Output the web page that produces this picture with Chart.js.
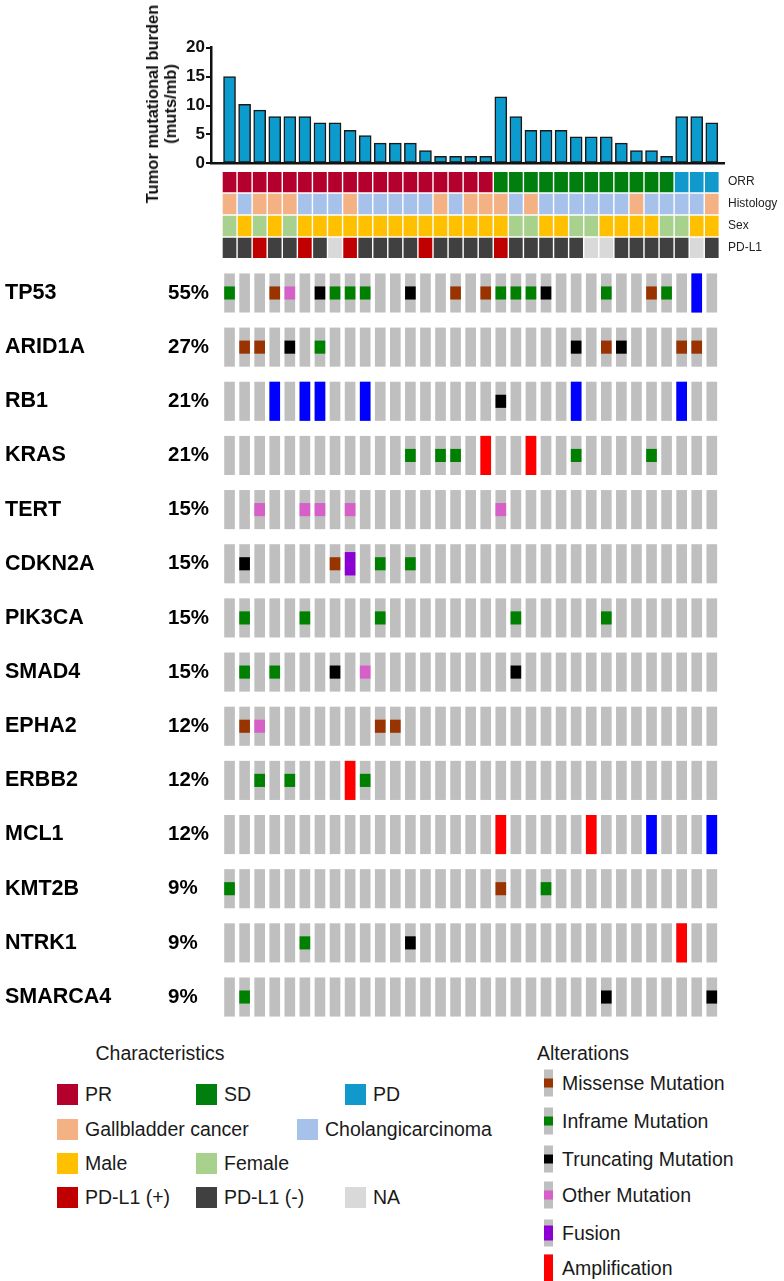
<!DOCTYPE html>
<html>
<head>
<meta charset="utf-8">
<title>Oncoprint</title>
<script src="https://cdn.jsdelivr.net/npm/chart.js@4.4.1/dist/chart.umd.min.js"></script>
<style>
  body { margin: 0; background: #fff; font-family: Arial, "Liberation Sans", sans-serif; color: #1a1a1a; }
  #page { position: relative; width: 784px; height: 1281px; overflow: hidden; }
  canvas { position: absolute; left: 0; }
  .abs { position: absolute; white-space: nowrap; }
  #tmbTitle { left: 161px; top: 104px; transform: translate(-50%, -50%) rotate(-90deg);
    text-align: center; font-weight: bold; font-size: 16.5px; line-height: 18px; color: #111; }
  .lgTitle { font-size: 19.5px; transform: translate(-50%, -50%); }
  .sw { position: absolute; width: 21px; height: 21px; }
  .lgText { position: absolute; font-size: 19.5px; transform: translateY(-50%); white-space: nowrap; }
  .altIcon { position: absolute; width: 9px; height: 27px; background: #bfbfbf; transform: translateY(-50%); }
  .altIcon span { position: absolute; left: 0; width: 9px; }
</style>
</head>
<body>
<div id="page">
  <canvas id="tmb" width="784" height="215" style="top:0"></canvas>
  <canvas id="ann" width="784" height="110" style="top:160px"></canvas>
  <canvas id="onco" width="784" height="790" style="top:250px"></canvas>
  <div id="tmbTitle" class="abs">Tumor mutational burden<br>(muts/mb)</div>
  <div id="legend"></div>
</div>
<script>
// Tumor mutational burden per patient (muts/mb), patients in plotted order
const tmb = [15, 10.2, 9.2, 8.1, 8.1, 8.1, 7.0, 7.0, 5.7, 4.8, 3.5, 3.5, 3.5, 2.2, 1.2, 1.2, 1.2, 1.2,
             11.5, 8.1, 5.7, 5.7, 5.7, 4.6, 4.6, 4.6, 3.5, 2.2, 2.2, 1.2,
             8.1, 8.1, 7.0];

// Clinical tracks, one letter per patient (written in groups of 11)
// ORR: R = PR, S = SD, P = PD
const orr = 'RRRRRRRRRRR' + 'RRRRRRRSSSS' + 'SSSSSSSSPPP';
// Histology: G = Gallbladder cancer, C = Cholangicarcinoma
const histology = 'GCGGGCCCGCC' + 'CCCGCGGGCGC' + 'CCCCCGCCCCG';
// Sex: M = Male, F = Female
const sex = 'FMFMFMMMMMM' + 'MMMMMMMMFFM' + 'MFFMMMMFFMM';
// PD-L1: P = (+), N = (-), X = NA
const pdl1 = 'NNPNNPNXPNN' + 'NNPNNNNPNNN' + 'NNXXNNNNNXN';

const annLabels = ['ORR', 'Histology', 'Sex', 'PD-L1'];

// Genes and alteration frequency
const genes = ['TP53', 'ARID1A', 'RB1', 'KRAS', 'TERT', 'CDKN2A', 'PIK3CA', 'SMAD4',
               'EPHA2', 'ERBB2', 'MCL1', 'KMT2B', 'NTRK1', 'SMARCA4'];
const genePct = ['55%', '27%', '21%', '21%', '15%', '15%', '15%', '15%', '12%', '12%', '12%', '9%', '9%', '9%'];

// Alterations, one letter per patient:
// M missense, I inframe, T truncating, O other, F fusion, A amplification, D deletion
const tp53    = 'I..MO.TIII.' + '.T..M.MIIIT' + '...I..MI.D.';
const arid1a  = '.MM.T.I....' + '...........' + '.T.MT...MM.';
const rb1     = '...D.DD..D.' + '.......T...' + '.D......D..';
const kras    = '...........' + '.I.II.A..A.' + '.I....I....';
const tert    = '..O..OO.O..' + '.......O...' + '...........';
const cdkn2a  = '.T.....MF.I' + '.I.........' + '...........';
const pik3ca  = '.I...I....I' + '........I..' + '...I.......';
const smad4   = '.I.I...T.O.' + '........T..' + '...........';
const epha2   = '.MO.......M' + 'M..........' + '...........';
const erbb2   = '..I.I...AI.' + '...........' + '...........';
const mcl1    = '...........' + '.......A...' + '..A...D...D';
const kmt2b   = 'I..........' + '.......M..I' + '...........';
const ntrk1   = '.....I.....' + '.T.........' + '........A..';
const smarca4 = '.I.........' + '...........' + '...T......T';
const geneCalls = [tp53, arid1a, rb1, kras, tert, cdkn2a, pik3ca, smad4, epha2, erbb2, mcl1, kmt2b, ntrk1, smarca4];

const altCodes = ['M', 'I', 'T', 'O', 'F', 'A', 'D'];
const altNames = ['Missense Mutation', 'Inframe Mutation', 'Truncating Mutation', 'Other Mutation',
                  'Fusion', 'Amplification', 'Deletion'];

// ---- styles ----
const trackColors = [
  { R: '#b3002d', S: '#007f0e', P: '#1299cc' },
  { G: '#f4b183', C: '#a6c2ea' },
  { M: '#ffc000', F: '#a9d18e' },
  { P: '#c00000', N: '#404040', X: '#d9d9d9' }
];
const altColors = { M: '#993300', I: '#008000', T: '#000000', O: '#d65fc8', F: '#8c00d4', A: '#ff0000', D: '#0000ff' };
// vertical extent of each mark inside a gene row (fraction of the row)
const altSpan = { M: [0.385, 0.615], I: [0.385, 0.615], T: [0.385, 0.615], O: [0.385, 0.615],
                  F: [0.29, 0.71], A: [0.145, 0.855], D: [0.145, 0.855] };
// same, for the little legend icons
const iconSpan = { M: [0.32, 0.68], I: [0.32, 0.68], T: [0.32, 0.68], O: [0.32, 0.68],
                   F: [0.22, 0.78], A: [0, 1], D: [0, 1] };
const GRAY = '#bfbfbf';
const INK = '#111';

const X_MIN = -1.23, X_MAX = 32.81;   // patient index range across the plot width
const FONT = 'Arial, "Liberation Sans", sans-serif';

function xAxis(show) {
  return {
    type: 'linear', min: X_MIN, max: X_MAX, offset: false, bounds: 'data', display: show,
    ticks: { display: false }, grid: { display: false, drawTicks: false },
    border: { display: show, color: INK, width: 2.5 },
    afterFit: s => { s.height = 2; }
  };
}

const base = {
  responsive: false, animation: false, events: [],
  plugins: { legend: { display: false }, tooltip: { enabled: false } }
};

// ---- TMB bar chart ----
new Chart(document.getElementById('tmb'), {
  type: 'bar',
  data: {
    datasets: [{
      data: tmb.map((v, i) => ({ x: i, y: v })),
      backgroundColor: '#0b9bcc', borderColor: '#1a1a1a', borderWidth: 1.5,
      borderSkipped: false, barThickness: 12, grouped: false
    }]
  },
  options: {
    ...base,
    layout: { padding: { left: 120, right: 60, top: 47.7, bottom: 49.7 } },
    scales: {
      x: xAxis(true),
      y: {
        min: 0, max: 20,
        ticks: { stepSize: 5, padding: 1, color: INK, font: { family: FONT, size: 17, weight: 'bold' } },
        grid: { drawOnChartArea: false, drawTicks: true, tickLength: 5, color: INK, lineWidth: 2 },
        border: { color: INK, width: 2.5 },
        afterFit: s => { s.width = 91; }
      }
    }
  }
});

// ---- clinical annotation tracks ----
const tracks = [orr, histology, sex, pdl1];
const annSets = [];
tracks.forEach((track, r) => {
  Object.keys(trackColors[r]).forEach(code => {
    const pts = [];
    track.split('').forEach((c, i) => { if (c === code) pts.push({ x: i, y: [r + 0.05, r + 0.95] }); });
    annSets.push({ data: pts, backgroundColor: trackColors[r][code], borderWidth: 0, barThickness: 13, grouped: false });
  });
});

new Chart(document.getElementById('ann'), {
  type: 'bar',
  data: { datasets: annSets },
  options: {
    ...base,
    layout: { padding: { left: 211, right: 0, top: 8.2, bottom: 8.6 } },
    scales: {
      x: xAxis(false),
      y: {
        type: 'linear', position: 'right', min: 0, max: 4, reverse: true,
        grid: { display: false, drawTicks: false }, border: { display: false },
        afterBuildTicks: s => { s.ticks = annLabels.map((_, i) => ({ value: i + 0.5 })); },
        ticks: { autoSkip: false, padding: 4, color: '#222', font: { family: FONT, size: 12 },
                 callback: (v, i) => annLabels[i] },
        afterFit: s => { s.width = 60; }
      }
    }
  }
});

// ---- gene alteration grid ----
const bgPts = [];
genes.forEach((g, r) => {
  for (let i = 0; i < tmb.length; i++) bgPts.push({ x: i, y: [r + 0.145, r + 0.855] });
});
const oncoSets = [{ data: bgPts, backgroundColor: GRAY, borderWidth: 0, barThickness: 10, grouped: false, order: 2 }];
altCodes.forEach(code => {
  const pts = [];
  geneCalls.forEach((calls, r) => {
    calls.split('').forEach((c, i) => {
      if (c === code) pts.push({ x: i, y: [r + altSpan[code][0], r + altSpan[code][1]] });
    });
  });
  oncoSets.push({ label: altNames[altCodes.indexOf(code)], data: pts, backgroundColor: altColors[code],
                  borderWidth: 0, barThickness: 10, grouped: false, order: 1 });
});

function rowTicks(s) { s.ticks = genes.map((_, i) => ({ value: i + 0.5 })); }

new Chart(document.getElementById('onco'), {
  type: 'bar',
  data: { datasets: oncoSets },
  options: {
    ...base,
    layout: { padding: { left: 5, right: 60, top: 6.5, bottom: 12.1 } },
    scales: {
      x: xAxis(false),
      y: {
        type: 'linear', position: 'left', weight: 2, min: 0, max: genes.length, reverse: true,
        grid: { display: false, drawTicks: false }, border: { display: false },
        afterBuildTicks: rowTicks,
        ticks: { autoSkip: false, crossAlign: 'far', color: '#000',
                 font: { family: FONT, size: 21.5, weight: 'bold' }, callback: (v, i) => genes[i] },
        afterFit: s => { s.width = 163; }
      },
      y2: {
        type: 'linear', position: 'left', weight: 1, min: 0, max: genes.length, reverse: true,
        grid: { display: false, drawTicks: false }, border: { display: false },
        afterBuildTicks: rowTicks,
        ticks: { autoSkip: false, crossAlign: 'far', color: '#000',
                 font: { family: FONT, size: 20.5, weight: 'bold' }, callback: (v, i) => genePct[i] },
        afterFit: s => { s.width = 43; }
      }
    }
  }
});

// ---- legends (HTML) ----
const charNames = [['PR', 'SD', 'PD'], ['Gallbladder cancer', 'Cholangicarcinoma'], ['Male', 'Female'],
                   ['PD-L1 (+)', 'PD-L1 (-)', 'NA']];
const charCodes = [['R', 'S', 'P'], ['G', 'C'], ['M', 'F'], ['P', 'N', 'X']];
const charRowY = [1094, 1129, 1163, 1197];
const charColX = [[57, 196, 345], [57, 297], [57, 196], [57, 196, 345]];

let html = '<div class="abs lgTitle" style="left:160px;top:1053px">Characteristics</div>';
html += '<div class="abs lgTitle" style="left:583px;top:1053px">Alterations</div>';
charNames.forEach((row, r) => {
  row.forEach((name, k) => {
    const x = charColX[r][k], y = charRowY[r];
    html += `<div class="sw" style="left:${x}px;top:${y - 10.5}px;background:${trackColors[r][charCodes[r][k]]}"></div>`;
    html += `<div class="lgText" style="left:${x + 28}px;top:${y}px">${name}</div>`;
  });
});
const altLegendY = [1083, 1121, 1159, 1195, 1233, 1268];
altLegendY.forEach((y, k) => {
  const code = altCodes[k];
  const span = iconSpan[code];
  html += `<div class="altIcon" style="left:544px;top:${y}px"><span style="top:${span[0] * 27}px;height:${(span[1] - span[0]) * 27}px;background:${altColors[code]}"></span></div>`;
  html += `<div class="lgText" style="left:562px;top:${y}px">${altNames[k]}</div>`;
});
document.getElementById('legend').innerHTML = html;
</script>
</body>
</html>
